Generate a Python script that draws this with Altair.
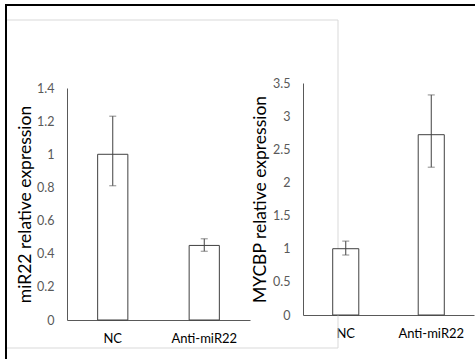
import altair as alt
import pandas as pd

categories = ["NC", "Anti-miR22"]

mir22_mean = [1.0, 0.45]
mir22_low = [0.81, 0.415]
mir22_high = [1.23, 0.49]

mycbp_mean = [1.0, 2.72]
mycbp_low = [0.905, 2.23]
mycbp_high = [1.115, 3.32]

left_ticks = [0, 0.2, 0.4, 0.6, 0.8, 1, 1.2, 1.4]
right_ticks = [0, 0.5, 1, 1.5, 2, 2.5, 3, 3.5]

FONT = "Lato"
W, H = 475, 359

dfa = pd.DataFrame({"cat": categories, "v": mir22_mean, "lo": mir22_low, "hi": mir22_high})
dfb = pd.DataFrame({"cat": categories, "v": mycbp_mean, "lo": mycbp_low, "hi": mycbp_high})


def panel(df, title, ticks, xrange, yrange, ymax, band, title_x, fmt):
    xs = alt.Scale(domain=categories, range=xrange, paddingInner=0, paddingOuter=0)
    ys = alt.Scale(domain=[0, ymax], range=yrange, nice=False, zero=True)
    xaxis = alt.Axis(
        title=None, orient="bottom", offset=-(H - yrange[0]), ticks=False,
        grid=False, domainColor="#595959", labelFont=FONT, labelFontSize=13,
        labelColor="#000000", labelPadding=12, labelAngle=0,
    )
    yaxis = alt.Axis(
        title=title, orient="left", offset=-xrange[0], ticks=False, grid=False,
        values=ticks, format=fmt, domainColor="#595959", labelFont=FONT,
        labelFontSize=12.5, labelColor="#595959", labelPadding=13,
        titleFont=FONT, titleFontSize=17.5, titleFontWeight="normal",
        titleColor="#000000", titleX=title_x,
        titleBaseline="alphabetic", titleAngle=270, titleAlign="center",
    )
    base = alt.Chart(df)
    bars = base.mark_bar(
        width=alt.RelativeBandSize(band), fill="white", stroke="#404040", strokeWidth=1
    ).encode(
        x=alt.X("cat:N", sort=categories, scale=xs, axis=xaxis),
        y=alt.Y("v:Q", scale=ys, axis=yaxis),
    )
    rule = base.mark_rule(color="#404040", strokeWidth=1).encode(
        x=alt.X("cat:N", sort=categories, scale=xs),
        y=alt.Y("lo:Q", scale=ys),
        y2="hi:Q",
    )
    cap_hi = base.mark_tick(color="#595959", size=7, thickness=1).encode(
        x=alt.X("cat:N", sort=categories, scale=xs),
        y=alt.Y("hi:Q", scale=ys),
    )
    cap_lo = base.mark_tick(color="#595959", size=7, thickness=1).encode(
        x=alt.X("cat:N", sort=categories, scale=xs),
        y=alt.Y("lo:Q", scale=ys),
    )
    return alt.layer(bars, rule, cap_hi, cap_lo)


deco = pd.DataFrame({"k": [0]})
frame = alt.Chart(deco).mark_rect(fill=None, stroke="#d9d9d9", strokeWidth=1).encode(
    x=alt.value(6), x2=alt.value(338), y=alt.value(20), y2=alt.value(348)
)
border = alt.Chart(deco).mark_rect(fill=None, stroke="#000000", strokeWidth=2).encode(
    x=alt.value(6), x2=alt.value(490), y=alt.value(5), y2=alt.value(380)
)

pa = panel(dfa, "miR22 relative expression", left_ticks, [67, 250], [320, 88], 1.4,
           0.33, -37, ".1~f")
pb = panel(dfb, "MYCBP relative expression", right_ticks, [303, 474], [315, 83], 3.5,
           0.305, -38, ".1~f")

chart = alt.layer(frame, pa, pb, border).resolve_scale(
    x="independent", y="independent"
).resolve_axis(x="independent", y="independent").properties(
    width=W, height=H, padding=0, autosize=alt.AutoSizeParams(type="none"),
    background="white",
).configure_view(stroke=None)

chart.save("out.html", embed_options={"renderer": "svg", "actions": False})
